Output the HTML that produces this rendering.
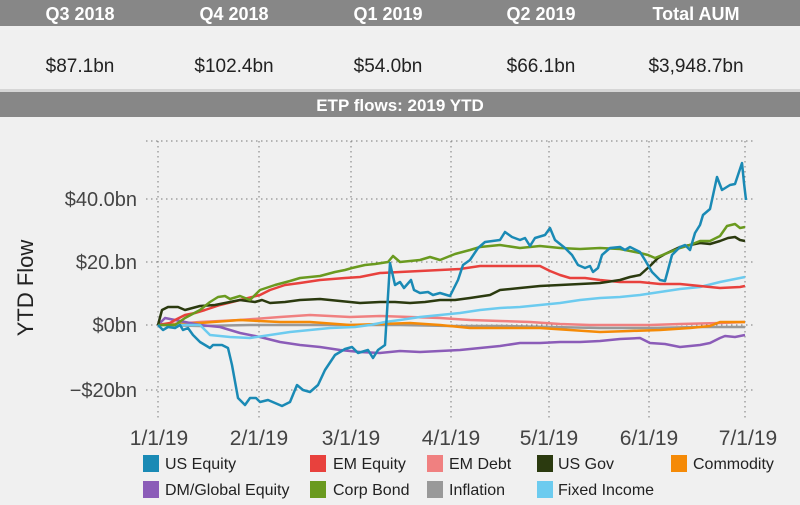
<!DOCTYPE html><html><head><style>
body{margin:0;width:800px;height:500px;background:#f0f0f0;font-family:"Liberation Sans",sans-serif;overflow:hidden}
</style></head><body>
<svg width="800" height="500" xmlns="http://www.w3.org/2000/svg" font-family="Liberation Sans, sans-serif">
<rect width="800" height="500" fill="#f0f0f0"/>
<rect x="0" y="0" width="800" height="26" fill="#878787"/>
<rect x="0" y="89" width="800" height="3" fill="#d6d6d6"/>
<rect x="0" y="92" width="800" height="25" fill="#878787"/>
<g fill="#fff" font-weight="bold" font-size="18" text-anchor="middle">
<text x="80" y="20">Q3 2018</text><text x="234" y="20">Q4 2018</text><text x="388" y="20">Q1 2019</text><text x="541" y="20">Q2 2019</text><text x="696" y="20">Total AUM</text>
</g>
<g fill="#222" font-size="19" text-anchor="middle">
<text x="80" y="72">$87.1bn</text><text x="234" y="72">$102.4bn</text><text x="388" y="72">$54.0bn</text><text x="541" y="72">$66.1bn</text><text x="696" y="72">$3,948.7bn</text>
</g>
<text x="400" y="111" fill="#fff" font-weight="bold" font-size="17" text-anchor="middle">ETP flows: 2019 YTD</text>
<g stroke="#777" stroke-width="1" stroke-dasharray="1.5,3.5" fill="none">
<line x1="146" y1="141" x2="755" y2="141"/><line x1="146" y1="199" x2="755" y2="199"/><line x1="146" y1="262" x2="755" y2="262"/><line x1="146" y1="325" x2="755" y2="325"/><line x1="146" y1="390" x2="755" y2="390"/>
<line x1="158" y1="141" x2="158" y2="420"/><line x1="259" y1="141" x2="259" y2="420"/><line x1="351" y1="141" x2="351" y2="420"/><line x1="451" y1="141" x2="451" y2="420"/><line x1="549" y1="141" x2="549" y2="420"/><line x1="649" y1="141" x2="649" y2="420"/><line x1="745" y1="141" x2="745" y2="420"/>
</g>
<g fill="#444" font-size="20" text-anchor="end">
<text x="137" y="206">$40.0bn</text><text x="137" y="269">$20.bn</text><text x="137" y="332">$0bn</text><text x="137" y="397">−$20bn</text>
</g>
<text transform="translate(33,288) rotate(-90)" fill="#222" font-size="22" text-anchor="middle">YTD Flow</text>
<g fill="#444" font-size="21" text-anchor="middle">
<text x="159" y="445">1/1/19</text><text x="259" y="445">2/1/19</text><text x="351" y="445">3/1/19</text><text x="451" y="445">4/1/19</text><text x="549" y="445">5/1/19</text><text x="649" y="445">6/1/19</text><text x="748" y="445">7/1/19</text>
</g>
<g fill="none" stroke-width="2.5" stroke-linejoin="round">
<polyline stroke="#999" points="158,325 200,326 250,325 300,325 350,325 400,325 450,326 500,326 550,327 600,328 650,328 700,327 745,327"/>
<polyline stroke="#f08080" points="158,325 200,322 240,320 280,317 310,315 350,317 380,316 410,317 440,318 470,320 500,321 530,322 560,324 590,325 620,325 650,325 680,324 720,323 745,322"/>
<polyline stroke="#f58a07" points="158,325 200,323 240,320 280,322 310,322 350,325 380,324 410,323 440,325 470,328 500,328 540,328 570,330 600,332 630,331 660,330 690,328 710,326 720,322 745,322"/>
<polyline stroke="#8b5cb8" points="158,325 165,318 175,320 185,322 200,325 220,327 240,333 260,337 280,342 300,345 320,347 340,350 360,352 380,353 400,351 420,352 440,351 460,350 480,348 500,346 520,343 540,343 560,342 580,342 600,341 620,339 640,338 650,343 665,344 680,347 700,345 710,343 720,338 725,336 735,337 745,335"/>
<polyline stroke="#6ccbef" points="158,325 200,325 210,335 230,337 250,338 270,335 290,332 310,330 330,328 355,327 370,325 385,322 400,320 420,317 440,315 460,313 480,310 500,308 520,307 540,305 560,303 580,300 600,298 620,297 640,295 660,292 680,289 700,287 720,282 745,277"/>
<polyline stroke="#e8413d" points="158,325 170,323 175,320 185,315 195,313 205,310 220,305 240,300 260,295 270,290 285,285 300,283 320,280 345,278 360,277 380,273 400,272 420,271 440,270 460,269 480,266 500,266 520,266 540,266 550,271 560,275 570,278 585,278 600,280 620,282 640,282 660,284 680,284 700,286 720,288 740,287 745,286"/>
<polyline stroke="#2b3a0f" points="158,325 162,310 168,307 178,307 185,310 200,306 215,305 225,303 240,300 255,302 262,300 270,303 285,302 300,300 320,299 340,301 360,303 380,302 395,302 410,303 425,302 440,300 455,300 470,298 490,295 500,290 520,288 540,286 560,285 580,284 600,283 620,280 630,277 640,275 650,266 658,258 665,254 680,247 690,245 700,243 710,244 720,241 728,238 735,237 740,240 745,241"/>
<polyline stroke="#6a9a1f" points="158,325 175,325 185,318 200,310 210,302 218,297 225,296 230,299 240,296 250,300 260,290 275,285 290,281 300,278 320,276 335,272 345,270 352,268 365,265 375,264 388,262 393,256 400,262 420,260 430,257 440,260 455,254 470,250 480,247 500,245 520,248 540,246 560,248 580,249 600,248 620,249 640,253 648,255 655,258 665,254 680,248 690,245 700,241 710,241 720,236 727,226 735,224 740,228 745,227"/>
<polyline stroke="#1a8ab5" points="158,325 163,330 168,327 175,328 180,325 183,330 188,328 193,335 200,342 210,348 213,345 222,345 228,348 232,365 238,398 245,405 250,398 256,398 260,402 268,400 275,403 282,406 290,402 297,385 303,390 310,392 318,385 325,370 335,355 345,349 352,347 358,353 368,350 373,358 378,350 385,345 390,263 395,285 400,282 404,288 411,280 414,290 420,293 428,292 433,295 440,293 450,296 458,280 463,265 470,260 478,248 485,242 500,240 505,232 512,237 520,240 525,238 530,246 535,238 545,235 550,228 555,240 565,248 572,255 578,265 585,268 590,266 593,272 598,268 602,255 610,248 620,247 625,250 630,247 640,252 645,260 652,272 660,280 665,281 668,270 672,255 680,247 685,245 690,250 695,233 700,225 703,215 710,209 717,177 722,190 730,185 735,184 742,163 744,183 746,200"/>
</g>
<g font-size="16" fill="#222">
<rect x="143" y="455" width="16" height="17" fill="#1a8ab5"/><text x="165" y="469">US Equity</text>
<rect x="310" y="455" width="16" height="17" fill="#e8413d"/><text x="333" y="469">EM Equity</text>
<rect x="427" y="455" width="16" height="17" fill="#f08080"/><text x="449" y="469">EM Debt</text>
<rect x="537" y="455" width="16" height="17" fill="#2b3a0f"/><text x="558" y="469">US Gov</text>
<rect x="671" y="455" width="16" height="17" fill="#f58a07"/><text x="693" y="469">Commodity</text>
<rect x="143" y="481" width="16" height="17" fill="#8b5cb8"/><text x="165" y="495">DM/Global Equity</text>
<rect x="310" y="481" width="16" height="17" fill="#6a9a1f"/><text x="333" y="495">Corp Bond</text>
<rect x="427" y="481" width="16" height="17" fill="#999"/><text x="449" y="495">Inflation</text>
<rect x="537" y="481" width="16" height="17" fill="#6ccbef"/><text x="558" y="495">Fixed Income</text>
</g>
</svg>
</body></html>
